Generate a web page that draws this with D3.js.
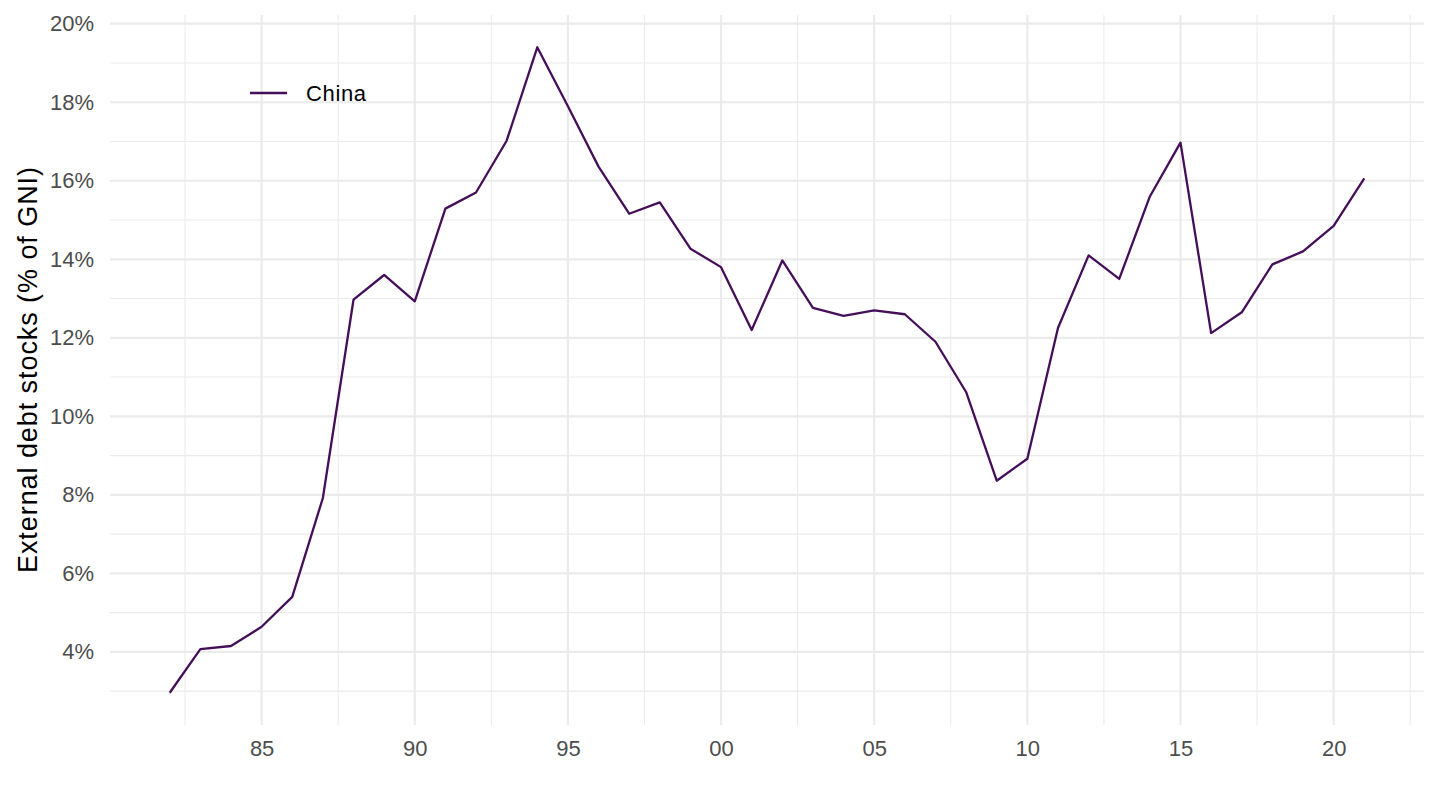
<!DOCTYPE html>
<html><head><meta charset="utf-8">
<script src="https://cdn.jsdelivr.net/npm/d3@7"></script>
<style>body{margin:0;background:#fff;} svg{display:block;font-family:"Liberation Sans",Arial,sans-serif;}</style>
</head><body>
<svg id="chart" width="1440" height="810"></svg>
<script>
const years = d3.range(1982, 2022);
const china = [2.96,4.07,4.15,4.64,5.40,7.92,12.97,13.60,12.93,15.29,15.70,17.02,19.40,17.90,16.36,15.16,15.45,14.27,13.80,12.20,13.97,12.76,12.56,12.70,12.60,11.90,10.62,8.36,8.92,12.25,14.10,13.50,15.60,16.97,12.12,12.65,13.87,14.20,14.85,16.06];
const xTicks = [1985,1990,1995,2000,2005,2010,2015,2020];
const xTickLabels = ["85","90","95","00","05","10","15","20"];
const yTicks = [4,6,8,10,12,14,16,18,20];
const seriesName = "China";
const yTitle = "External debt stocks (% of GNI)";

const svg = d3.select("#chart");
const L = 110, R = 1424, T = 15, B = 725;
const ymin = d3.min(china), ymax = d3.max(china);
const yExp = (ymax - ymin) * 0.05;
const xExp = (2021 - 1982) * 0.05;
const x = d3.scaleLinear().domain([1982 - xExp, 2021 + xExp]).range([L, R]);
const y = d3.scaleLinear().domain([ymin - yExp, ymax + yExp]).range([B, T]);

const grid = svg.append("g");
const xMinor = d3.range(1982.5, 2023, 5);
grid.selectAll(".xm").data(xMinor).enter().append("line")
  .attr("x1", d => x(d)).attr("x2", d => x(d)).attr("y1", T).attr("y2", B)
  .attr("stroke", "#ebebeb").attr("stroke-width", 1.1);
const yMinor = d3.range(3, 20, 2);
grid.selectAll(".ym").data(yMinor).enter().append("line")
  .attr("x1", L).attr("x2", R).attr("y1", d => y(d)).attr("y2", d => y(d))
  .attr("stroke", "#ebebeb").attr("stroke-width", 1.1);
grid.selectAll(".xM").data(xTicks).enter().append("line")
  .attr("x1", d => x(d)).attr("x2", d => x(d)).attr("y1", T).attr("y2", B)
  .attr("stroke", "#ebebeb").attr("stroke-width", 2.2);
grid.selectAll(".yM").data(yTicks).enter().append("line")
  .attr("x1", L).attr("x2", R).attr("y1", d => y(d)).attr("y2", d => y(d))
  .attr("stroke", "#ebebeb").attr("stroke-width", 2.2);

const xAxis = d3.axisBottom(x).tickValues(xTicks).tickFormat((d, i) => xTickLabels[i]).tickSize(0).tickPadding(15);
const gx = svg.append("g").attr("transform", `translate(0,${B})`).call(xAxis);
gx.select(".domain").remove();
gx.selectAll("text").attr("fill", "#4d4d4d").style("font-size", "22px");

const yAxis = d3.axisLeft(y).tickValues(yTicks).tickFormat(d => d + "%").tickSize(0).tickPadding(16);
const gy = svg.append("g").attr("transform", `translate(${L},0)`).call(yAxis);
gy.select(".domain").remove();
gy.selectAll("text").attr("fill", "#4d4d4d").style("font-size", "22px");

svg.append("text").attr("transform", `translate(37,${(T + B) / 2}) rotate(-90)`)
  .attr("text-anchor", "middle").style("font-size", "27px").attr("fill", "#000")
  .attr("textLength", 406).attr("lengthAdjust", "spacing").text(yTitle);

const line = d3.line().x((d, i) => x(years[i])).y(d => y(d));
svg.append("path").datum(china).attr("d", line).attr("fill", "none")
  .attr("stroke", "#440f58").attr("stroke-width", 2.3).attr("stroke-linejoin", "round");

const lg = svg.append("g").attr("transform", "translate(250,93)");
lg.append("line").attr("x1", 0).attr("x2", 37).attr("y1", 0).attr("y2", 0)
  .attr("stroke", "#440f58").attr("stroke-width", 2.3);
lg.append("text").attr("x", 56).attr("y", 0).attr("dy", "0.35em")
  .style("font-size", "22px").attr("fill", "#000")
  .attr("textLength", 60).attr("lengthAdjust", "spacing").text(seriesName);
</script>
</body></html>
